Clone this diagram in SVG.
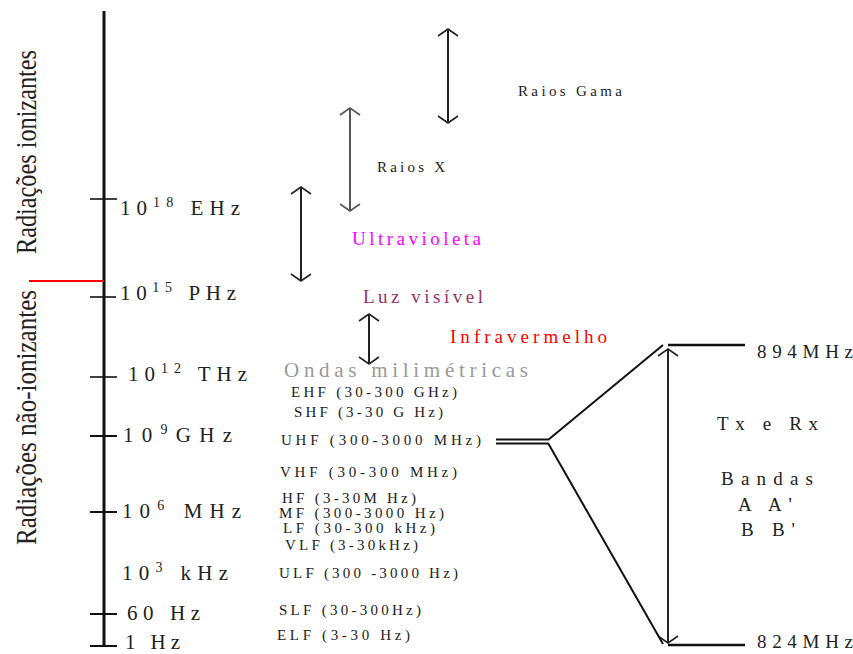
<svg xmlns="http://www.w3.org/2000/svg" width="853" height="654" viewBox="0 0 853 654">
<defs>
<marker id="chevK" viewBox="-12 -12 24 24" markerWidth="24" markerHeight="24" markerUnits="userSpaceOnUse" refX="0" refY="0" orient="auto-start-reverse">
<path d="M-7,-10 L0,0 L-7,10" fill="none" stroke="#222" stroke-width="1.6"/>
</marker>
<marker id="chevG" viewBox="-12 -12 24 24" markerWidth="24" markerHeight="24" markerUnits="userSpaceOnUse" refX="0" refY="0" orient="auto-start-reverse">
<path d="M-7,-10 L0,0 L-7,10" fill="none" stroke="#555" stroke-width="1.6"/>
</marker>
</defs>
<style>
text{font-family:"Liberation Serif","Times New Roman",serif;fill:#222}
.ax{font-size:21px}
.sup{font-size:14px}
.sm{font-size:15px}
.side{font-size:30px;fill:#222}
.lbl{font-size:19px}
.ln{stroke:#111;fill:none}
</style>
<rect width="853" height="654" fill="#fff"/>
<g id="axis">
<line class="ln" x1="104" y1="11" x2="104" y2="647" stroke-width="3"/>
<line x1="29" y1="281" x2="104" y2="281" stroke="#f00" stroke-width="2"/>
<line class="ln" x1="90" y1="199" x2="117" y2="199" stroke-width="1.6"/>
<line class="ln" x1="90" y1="297" x2="116" y2="297" stroke-width="1.6"/>
<line class="ln" x1="90" y1="377" x2="117" y2="377" stroke-width="1.6"/>
<line class="ln" x1="90" y1="436" x2="117" y2="436" stroke-width="2"/>
<line class="ln" x1="90" y1="512" x2="117" y2="512" stroke-width="2"/>
<line class="ln" x1="90" y1="614" x2="117" y2="614" stroke-width="2"/>
<line class="ln" x1="90" y1="646" x2="117" y2="646" stroke-width="2"/>
</g>
<g id="axis-labels">
<text class="ax" x="120" y="215" textLength="120">10<tspan class="sup" dy="-8">18</tspan><tspan dy="8"> EHz</tspan></text>
<text class="ax" x="120" y="300" textLength="116">10<tspan class="sup" dy="-8">15</tspan><tspan dy="8"> PHz</tspan></text>
<text class="ax" x="128" y="381" textLength="119">10<tspan class="sup" dy="-8">12</tspan><tspan dy="8"> THz</tspan></text>
<text class="ax" x="123" y="442" textLength="109">10<tspan class="sup" dy="-8">9</tspan><tspan dy="8">GHz</tspan></text>
<text class="ax" x="122" y="518" textLength="119">10<tspan class="sup" dy="-8">6</tspan><tspan dy="8"> MHz</tspan></text>
<text class="ax" x="122" y="580" textLength="106">10<tspan class="sup" dy="-8">3</tspan><tspan dy="8"> kHz</tspan></text>
<text class="ax" x="127" y="620" textLength="73">60 Hz</text>
<text class="ax" x="125" y="649" textLength="55">1 Hz</text>
</g>
<g id="side-labels">
<text class="side" transform="translate(36,254) rotate(-90)" textLength="204" lengthAdjust="spacingAndGlyphs">Radiações ionizantes</text>
<text class="side" transform="translate(36,545) rotate(-90)" textLength="255" lengthAdjust="spacingAndGlyphs">Radiações não-ionizantes</text>
</g>
<g id="connectors">
<line x1="448" y1="29" x2="448" y2="123" stroke="#222" stroke-width="2" marker-start="url(#chevK)" marker-end="url(#chevK)"/>
<line x1="350" y1="108" x2="350" y2="211" stroke="#555" stroke-width="2" marker-start="url(#chevG)" marker-end="url(#chevG)"/>
<line x1="301" y1="187" x2="301" y2="281" stroke="#222" stroke-width="2" marker-start="url(#chevK)" marker-end="url(#chevK)"/>
<line x1="369" y1="314" x2="369" y2="364" stroke="#222" stroke-width="2" marker-start="url(#chevK)" marker-end="url(#chevK)"/>
<line x1="668" y1="349" x2="668" y2="643" stroke="#222" stroke-width="2" marker-start="url(#chevK)" marker-end="url(#chevK)"/>
<line class="ln" x1="496" y1="439.5" x2="548" y2="439.5" stroke-width="2"/>
<line class="ln" x1="496" y1="443.5" x2="548" y2="443.5" stroke-width="2"/>
<line class="ln" x1="548" y1="440" x2="663" y2="345" stroke-width="2"/>
<line class="ln" x1="548" y1="443" x2="663" y2="644" stroke-width="2"/>
<line class="ln" x1="668" y1="345" x2="745" y2="345" stroke-width="2.5"/>
<line class="ln" x1="668" y1="645" x2="745" y2="645" stroke-width="2.5"/>
</g>
<g id="spectrum-labels">
<text id="gama" class="sm" x="518" y="96" textLength="104">Raios Gama</text>
<text id="raiosx" class="sm" x="377" y="172" textLength="68">Raios X</text>
<text id="uv" class="lbl" x="352" y="245" textLength="129" style="fill:#f0f">Ultravioleta</text>
<text id="luz" class="lbl" x="363" y="303" textLength="120" style="fill:#936">Luz visível</text>
<text id="ir" class="lbl" x="450" y="343" textLength="157" style="fill:#f00">Infravermelho</text>
<text id="ondas" class="ax" x="284" y="377" textLength="244" style="fill:#999">Ondas milimétricas</text>
</g>
<g id="bands">
<text class="sm" x="291" y="397" textLength="166">EHF (30-300 GHz)</text>
<text class="sm" x="294" y="417" textLength="149">SHF (3-30 G Hz)</text>
<text class="sm" x="281" y="445" textLength="200">UHF (300-3000  MHz)</text>
<text class="sm" x="280" y="477" textLength="177">VHF (30-300  MHz)</text>
<text class="sm" x="282" y="503" textLength="134">HF (3-30M Hz)</text>
<text class="sm" x="279" y="518" textLength="165">MF (300-3000 Hz)</text>
<text class="sm" x="283" y="533" textLength="152">LF (30-300 kHz)</text>
<text class="sm" x="285" y="550" textLength="133">VLF (3-30kHz)</text>
<text class="sm" x="279" y="578" textLength="179">ULF (300 -3000 Hz)</text>
<text class="sm" x="279" y="615" textLength="142">SLF (30-300Hz)</text>
<text class="sm" x="277" y="640" textLength="133">ELF (3-30  Hz)</text>
</g>
<g id="cell-band">
<text class="lbl" x="757" y="358" textLength="96">894MHz</text>
<text class="lbl" x="757" y="648" textLength="96">824MHz</text>
<text class="lbl" x="717" y="430" textLength="101">Tx e Rx</text>
<text class="lbl" x="721" y="485" textLength="92">Bandas</text>
<text class="lbl" x="738" y="511" textLength="54">A  A'</text>
<text class="lbl" x="741" y="536" textLength="54">B  B'</text>
</g>
</svg>
